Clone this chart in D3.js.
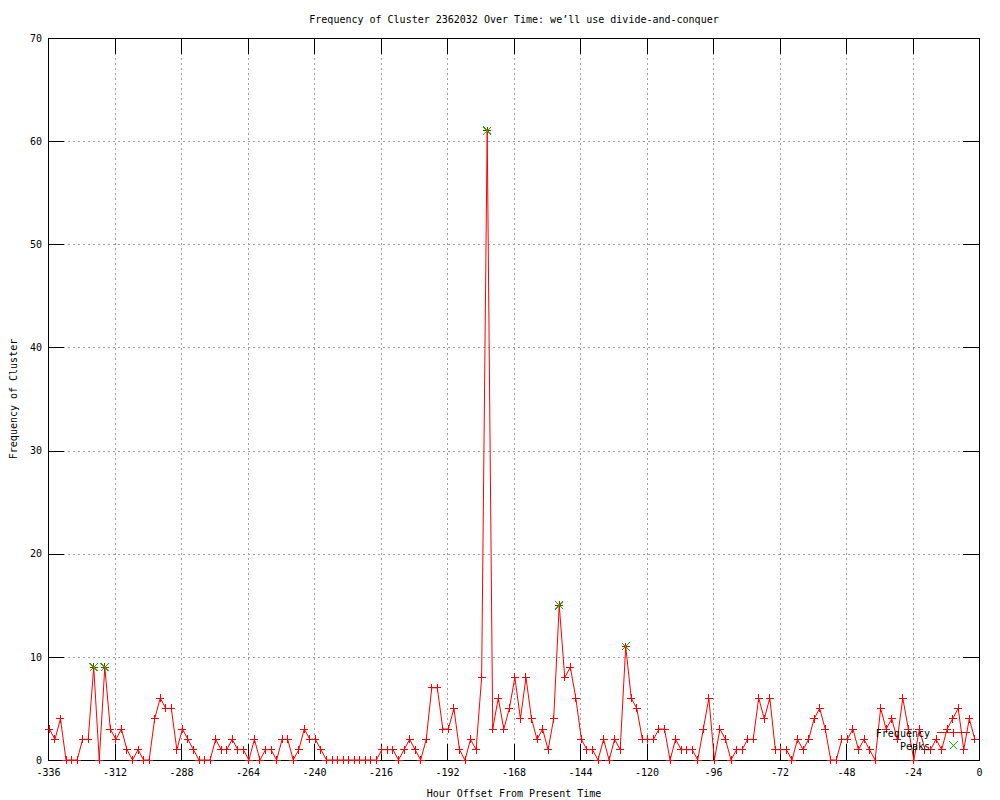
<!DOCTYPE html>
<html>
<head>
<meta charset="utf-8">
<script src="https://cdnjs.cloudflare.com/ajax/libs/d3/7.8.5/d3.min.js"></script>
<style>
  body { margin: 0; background: #fff; }
  svg text { font-family: "DejaVu Sans Mono", monospace; font-size: 10px; fill: #000; }
</style>
</head>
<body>
<script>
// frequency per 2-hour bin, first bin centred at hour -335.5
var startHour = -335.5, stepHours = 2;
var freq = [
  3, 2, 4, 0, 0, 0, 2, 2, 9, 0, 9, 3, 2, 3, 1, 0, 1, 0, 0, 4,   // -336 .. -298
  6, 5, 5, 1, 3, 2, 1, 0, 0, 0, 2, 1, 1, 2, 1, 1, 0, 2, 0, 1,   // -296 .. -258
  1, 0, 2, 2, 0, 1, 3, 2, 2, 1, 0, 0, 0, 0, 0, 0, 0, 0, 0, 0,   // -256 .. -218
  1, 1, 1, 0, 1, 2, 1, 0, 2, 7, 7, 3, 3, 5, 1, 0, 2, 1, 8, 61,  // -216 .. -178
  3, 6, 3, 5, 8, 4, 8, 4, 2, 3, 1, 4, 15, 8, 9, 6, 2, 1, 1, 0,  // -176 .. -138
  2, 0, 2, 1, 11, 6, 5, 2, 2, 2, 3, 3, 0, 2, 1, 1, 1, 0, 3, 6,  // -136 .. -98
  0, 3, 2, 0, 1, 1, 2, 2, 6, 4, 6, 1, 1, 1, 0, 2, 1, 2, 4, 5,   // -96 .. -58
  3, 0, 0, 2, 2, 3, 1, 2, 1, 0, 5, 3, 4, 2, 6, 3, 0, 3, 1, 1,   // -56 .. -18
  2, 1, 3, 4, 5, 1, 4, 2                                        // -16 .. -2
];
var peakHours = [-319.5, -315.5, -177.5, -151.5, -127.5];
var peakValues = [9, 9, 61, 15, 11];
var xTicks = [-336, -312, -288, -264, -240, -216, -192, -168, -144, -120, -96, -72, -48, -24, 0];
var yTicks = [0, 10, 20, 30, 40, 50, 60, 70];

var series = freq.map(function(v, i) { return {hour: startHour + i * stepHours, value: v}; });
var peaks = peakHours.map(function(h, i) { return {hour: h, value: peakValues[i]}; });

var margin = {top: 38, right: 21, bottom: 40, left: 48}
  , width = 1000 - margin.left - margin.right
  , height = 800 - margin.top - margin.bottom;

var svg = d3.select("body").append("svg")
    .attr("width", 1000)
    .attr("height", 800);

svg.append("rect").attr("width", 1000).attr("height", 800).attr("fill", "#fff");

var g = svg.append("g")
    .attr("transform", "translate(" + margin.left + "," + margin.top + ")");

var x = d3.scaleLinear().domain([-336, 0]).range([0, width]);
var y = d3.scaleLinear().domain([0, 70]).range([height, 0]);

// grid
var grid = g.append("g").attr("class", "grid");
grid.append("g")
    .attr("transform", "translate(0," + height + ")")
    .call(d3.axisBottom(x).tickValues(xTicks).tickSize(-height).tickFormat(""));
grid.append("g")
    .call(d3.axisLeft(y).tickValues(yTicks).tickSize(-width).tickFormat(""));
grid.selectAll(".domain").remove();
grid.selectAll("line")
    .attr("stroke", "#a0a0a0")
    .attr("stroke-dasharray", "2,3")
    .attr("shape-rendering", "crispEdges");

// axes with inward ticks, mirrored
var fmt = function(d) { return String(d); };
var xAxis = g.append("g")
    .attr("transform", "translate(0," + height + ")")
    .call(d3.axisBottom(x).tickValues(xTicks).tickSize(-16).tickPadding(9).tickFormat(fmt));
var yAxis = g.append("g")
    .call(d3.axisLeft(y).tickValues(yTicks).tickSize(-16).tickPadding(6).tickFormat(fmt));
var xTop = g.append("g")
    .call(d3.axisTop(x).tickValues(xTicks).tickSize(-16).tickFormat(""));
var yRight = g.append("g")
    .attr("transform", "translate(" + width + ",0)")
    .call(d3.axisRight(y).tickValues(yTicks).tickSize(-16).tickFormat(""));

[xAxis, yAxis, xTop, yRight].forEach(function(a) {
  a.select(".domain").remove();
  a.selectAll("line").attr("stroke", "#000").attr("shape-rendering", "crispEdges");
  a.selectAll("text").style("font-family", "DejaVu Sans Mono, monospace").style("font-size", "10px").attr("fill", "#000");
});

g.append("rect")
    .attr("width", width).attr("height", height)
    .attr("fill", "none").attr("stroke", "#000")
    .attr("shape-rendering", "crispEdges");

// data line
var line = d3.line()
    .x(function(d) { return x(d.hour); })
    .y(function(d) { return y(d.value); });

g.append("path")
    .datum(series)
    .attr("d", line)
    .attr("fill", "none")
    .attr("stroke", "#ff0000")
    .attr("stroke-width", 1);

var plus = "M-4,0H4M0,-4V4";
var cross = "M-4,-4L4,4M-4,4L4,-4";

g.selectAll(".pt")
    .data(series)
    .enter().append("path")
    .attr("class", "pt")
    .attr("transform", function(d) { return "translate(" + x(d.hour) + "," + y(d.value) + ")"; })
    .attr("d", plus)
    .attr("stroke", "#ff0000")
    .attr("fill", "none")
    .attr("shape-rendering", "crispEdges");

g.selectAll(".peak")
    .data(peaks)
    .enter().append("path")
    .attr("class", "peak")
    .attr("transform", function(d) { return "translate(" + x(d.hour) + "," + y(d.value) + ")"; })
    .attr("d", cross)
    .attr("stroke", "#00c000")
    .attr("fill", "none")
    .attr("shape-rendering", "crispEdges");

// legend
var legend = svg.append("g");
legend.append("text").attr("x", 930).attr("y", 733).attr("dy", "0.35em")
    .attr("text-anchor", "end").text("Frequency");
legend.append("line").attr("x1", 937).attr("x2", 970).attr("y1", 732.5).attr("y2", 732.5)
    .attr("stroke", "#ff0000").attr("shape-rendering", "crispEdges");
legend.append("path").attr("transform", "translate(953.5,732.5)").attr("d", plus)
    .attr("stroke", "#ff0000").attr("fill", "none").attr("shape-rendering", "crispEdges");
legend.append("text").attr("x", 930).attr("y", 746).attr("dy", "0.35em")
    .attr("text-anchor", "end").text("Peaks");
legend.append("path").attr("transform", "translate(953.5,745.5)").attr("d", cross)
    .attr("stroke", "#00c000").attr("fill", "none").attr("shape-rendering", "crispEdges");

// titles
svg.append("text")
    .attr("x", 514).attr("y", 19).attr("dy", "0.35em")
    .attr("text-anchor", "middle")
    .text("Frequency of Cluster 2362032 Over Time: we\u2019ll use divide-and-conquer");

svg.append("text")
    .attr("x", 514).attr("y", 793).attr("dy", "0.35em")
    .attr("text-anchor", "middle")
    .text("Hour Offset From Present Time");

svg.append("text")
    .attr("text-anchor", "middle")
    .attr("transform", "translate(13,399)rotate(-90)")
    .attr("dy", "0.35em")
    .text("Frequency of Cluster");
</script>
</body>
</html>
